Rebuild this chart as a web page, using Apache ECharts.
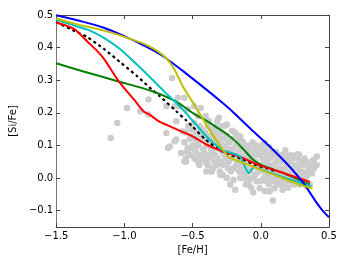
<!DOCTYPE html>
<html><head><meta charset="utf-8">
<script src="https://cdn.jsdelivr.net/npm/echarts@6/dist/echarts.min.js"></script>
<style>html,body{margin:0;padding:0;background:#fff}#c{width:349px;height:262px}</style>
</head><body><div id="c"></div>
<script>
const xTicks = [-1.5, -1.0, -0.5, 0.0, 0.5];
const yTicks = [-0.1, 0.0, 0.1, 0.2, 0.3, 0.4, 0.5];
const xName = '[Fe/H]';
const yName = '[Si/Fe]';

const starPoints = [
[-1.1,0.123],[-1.052,0.169],[-0.98,0.215],[-0.884,0.205],[-0.824,0.241],[-0.824,0.195],
[-0.692,0.22],[-0.608,0.246],[-0.56,0.246],[-0.596,0.22],[-0.62,0.174],[-0.651,0.307],
[-0.692,0.138],[-0.68,0.092],[-0.62,0.118],[-0.584,0.077],[-0.548,0.051],
[-0.488,0.22],[-0.44,0.215],[-0.404,0.19],[-0.308,0.185],[-0.32,0.174],[-0.26,0.161],
[-0.152,0.128],[-0.14,0.095],[-0.092,0.092],[0.027,0.108],[0.0,0.095],
[-0.632,0.113],[-0.668,0.097],[-0.536,0.092],[-0.56,0.051],[-0.572,0.143],[-0.632,0.22],
[-0.536,0.21],[-0.32,0.159],[-0.248,0.164],[-0.176,0.133],[-0.452,0.056],
[-0.368,0.02],[-0.296,0.01],[-0.128,0.02],[-0.116,0.0],[-0.092,-0.02],
[-0.46,0.19],[-0.38,0.175],[-0.28,0.16],[-0.21,0.145],[-0.06,0.11],[0.06,0.095],[0.18,0.085],
[-0.55,0.14],[-0.56,0.11],[-0.54,0.08],[-0.55,0.06],
[-0.53,0.16],[-0.52,0.12],[-0.535,0.09],
[-0.51,0.13],[-0.50,0.10],[-0.515,0.07],[-0.505,0.15],
[-0.49,0.17],[-0.48,0.12],[-0.495,0.09],[-0.485,0.06],
[-0.47,0.14],[-0.465,0.11],[-0.475,0.08],[-0.46,0.05],
[-0.45,0.16],[-0.44,0.13],[-0.455,0.10],[-0.445,0.07],[-0.45,0.04],
[-0.43,0.12],[-0.425,0.09],[-0.435,0.15],[-0.42,0.06],
[-0.41,0.14],[-0.40,0.11],[-0.415,0.08],[-0.405,0.05],[-0.40,0.02],
[-0.39,0.16],[-0.385,0.12],[-0.395,0.10],[-0.38,0.07],[-0.39,0.04],
[-0.37,0.13],[-0.365,0.09],[-0.375,0.06],[-0.36,0.02],[-0.37,0.11],
[-0.35,0.15],[-0.345,0.12],[-0.355,0.08],[-0.34,0.05],[-0.35,0.03],
[-0.33,0.14],[-0.325,0.10],[-0.335,0.07],[-0.32,0.04],[-0.33,0.12],
[-0.31,0.13],[-0.305,0.09],[-0.315,0.06],[-0.30,0.02],[-0.31,0.11],
[-0.29,0.12],[-0.285,0.08],[-0.295,0.05],[-0.28,0.01],[-0.29,0.14],
[-0.27,0.10],[-0.265,0.07],[-0.275,0.04],[-0.26,0.12],
[-0.25,0.13],[-0.245,0.09],[-0.255,0.06],[-0.24,0.03],[-0.25,0.00],
[-0.23,0.11],[-0.225,0.08],[-0.235,0.05],[-0.22,0.02],[-0.224,-0.02],
[-0.21,0.12],[-0.205,0.09],[-0.215,0.06],[-0.20,0.03],[-0.20,-0.005],
[-0.19,0.14],[-0.185,0.10],[-0.195,0.07],[-0.18,0.04],[-0.188,-0.036],
[-0.17,0.11],[-0.165,0.08],[-0.175,0.05],[-0.16,0.02],[-0.17,0.13],
[-0.15,0.12],[-0.145,0.09],[-0.155,0.06],[-0.14,0.03],[-0.15,0.00],
[-0.13,0.10],[-0.125,0.07],[-0.135,0.04],[-0.12,0.01],[-0.13,0.11],
[-0.11,0.09],[-0.105,0.06],[-0.115,0.03],[-0.10,0.00],[-0.11,-0.02],
[-0.09,0.10],[-0.085,0.07],[-0.095,0.05],[-0.08,0.02],[-0.09,-0.01],
[-0.07,0.08],[-0.065,0.06],[-0.075,0.03],[-0.06,0.00],[-0.07,-0.03],
[-0.05,0.09],[-0.045,0.07],[-0.055,0.04],[-0.04,0.01],[-0.056,-0.044],
[-0.03,0.10],[-0.025,0.08],[-0.035,0.05],[-0.02,0.02],[-0.03,-0.01],
[-0.01,0.07],[-0.005,0.04],[-0.015,0.02],[0.0,-0.01],[-0.008,-0.031],
[0.01,0.09],[0.015,0.06],[0.005,0.03],[0.02,0.00],[0.016,0.102],
[0.03,0.08],[0.035,0.05],[0.025,0.02],[0.04,-0.01],[0.03,-0.04],
[0.05,0.07],[0.055,0.04],[0.045,0.01],[0.06,-0.02],[0.04,0.072],
[0.07,0.06],[0.075,0.03],[0.065,0.00],[0.064,-0.041],[0.08,0.08],
[0.09,0.07],[0.095,0.04],[0.085,0.02],[0.10,-0.01],[0.1,-0.031],[0.088,-0.069],
[0.11,0.08],[0.115,0.05],[0.105,0.02],[0.12,-0.02],[0.11,0.00],[0.124,0.066],
[0.13,0.06],[0.135,0.03],[0.125,0.01],[0.14,-0.02],[0.13,0.07],
[0.15,0.05],[0.155,0.02],[0.145,-0.01],[0.16,-0.036],[0.15,0.07],
[0.17,0.06],[0.175,0.03],[0.165,0.00],[0.172,-0.02],
[0.19,0.07],[0.195,0.04],[0.185,0.01],[0.2,-0.03],[0.196,0.056],
[0.21,0.05],[0.215,0.02],[0.205,-0.01],[0.22,0.07],
[0.23,0.06],[0.235,0.03],[0.225,0.00],[0.24,-0.02],
[0.25,0.04],[0.255,0.01],[0.245,-0.02],[0.26,0.07],
[0.27,0.06],[0.268,0.072],[0.275,0.03],[0.265,0.00],[0.268,-0.01],
[0.29,0.05],[0.295,0.02],[0.285,-0.02],[0.28,0.072],
[0.31,0.04],[0.316,0.051],[0.305,0.01],[0.32,0.06],[0.31,-0.01],
[0.33,0.05],[0.335,0.02],[0.34,-0.026],[0.33,0.00],
[0.35,0.04],[0.355,0.03],[0.345,0.01],[0.36,-0.02],
[0.364,0.036],[0.376,0.015],[0.37,0.05],[0.375,0.02],
[0.388,0.056],[0.39,0.03],[0.412,0.066],[0.41,0.04]
];

const blackDashed = [[-1.5,0.478],[-1.34,0.446],[-1.268,0.431],[-1.147,0.395],[-1.027,0.354],[-0.908,0.313],[-0.8,0.272],[-0.74,0.251],[-0.62,0.205],[-0.55,0.178],[-0.5,0.158],[-0.404,0.118],[-0.284,0.082],[-0.15,0.06],[-0.044,0.041],[0.076,0.026],[0.1,0.022]];
const greenLine = [[-1.5,0.352],[-1.3,0.327],[-1.05,0.297],[-0.8,0.267],[-0.65,0.241],[-0.57,0.221],[-0.5,0.2],[-0.4,0.176],[-0.33,0.157],[-0.25,0.135],[-0.18,0.111],[-0.12,0.085],[-0.06,0.058],[0.0,0.041],[0.1,0.025],[0.2,0.009],[0.36,-0.02]];
const redLine = [[-1.5,0.477],[-1.43,0.468],[-1.36,0.455],[-1.27,0.418],[-1.2,0.39],[-1.147,0.364],[-1.05,0.302],[-0.98,0.265],[-0.93,0.241],[-0.86,0.205],[-0.81,0.193],[-0.74,0.172],[-0.69,0.163],[-0.6,0.146],[-0.5,0.128],[-0.4,0.103],[-0.28,0.082],[-0.16,0.066],[0.0,0.038],[0.17,0.015],[0.36,-0.012]];
const cyanLine = [[-1.5,0.485],[-1.4,0.472],[-1.27,0.455],[-1.15,0.43],[-1.03,0.395],[-0.91,0.349],[-0.79,0.3],[-0.7,0.262],[-0.62,0.231],[-0.55,0.2],[-0.45,0.152],[-0.38,0.12],[-0.33,0.102],[-0.28,0.085],[-0.2,0.075],[-0.15,0.066],[-0.09,0.015],[-0.05,0.033],[0.0,0.027],[0.1,0.012],[0.2,-0.002],[0.3,-0.015],[0.37,-0.025]];
const yellowLine = [[-1.5,0.489],[-1.35,0.472],[-1.15,0.452],[-1.0,0.433],[-0.86,0.412],[-0.76,0.39],[-0.69,0.366],[-0.64,0.338],[-0.57,0.28],[-0.51,0.24],[-0.42,0.178],[-0.38,0.15],[-0.3,0.1],[-0.24,0.066],[-0.2,0.058],[-0.1,0.042],[0.0,0.026],[0.12,0.006],[0.27,-0.018],[0.38,-0.031]];
const blueLine = [[-1.5,0.499],[-1.3,0.479],[-1.15,0.461],[-1.0,0.435],[-0.86,0.407],[-0.79,0.392],[-0.69,0.366],[-0.57,0.328],[-0.44,0.285],[-0.31,0.241],[-0.21,0.205],[-0.07,0.149],[0.09,0.087],[0.2,0.04],[0.31,-0.014],[0.41,-0.076],[0.45,-0.098],[0.5,-0.12]];

const fmt = v => { const s = (Math.abs(v) < 1e-9 ? 0 : v).toFixed(1); return s.replace('-', '\u2212'); };
const font = 'DejaVu Sans';
const spine = {show: true, onZero: false, lineStyle: {color: '#444', width: 1}};
const tickIn = {show: true, inside: true, length: 4, lineStyle: {color: '#444', width: 1}};

function line(data, color, extra) {
  return Object.assign({type: 'line', data: data, showSymbol: false, symbol: 'none', smooth: 0.25,
    lineStyle: {color: color, width: 2}, itemStyle: {color: color}, silent: true, z: 3}, extra || {});
}

const chart = echarts.init(document.getElementById('c'), null, {renderer: 'canvas'});
chart.setOption({
  animation: false,
  grid: {left: 51, right: 20, top: 15, bottom: 35, containLabel: false},
  xAxis: [
    {type: 'value', min: -1.5, max: 0.5, interval: 0.5, position: 'bottom',
     axisLine: spine, axisTick: Object.assign({}, tickIn, {customValues: xTicks}), splitLine: {show: false},
     axisLabel: {customValues: xTicks, formatter: fmt, color: '#000', fontFamily: font, fontSize: 10, margin: 4},
     name: xName, nameLocation: 'middle', nameGap: 14, nameTextStyle: {color: '#000', fontFamily: font, fontSize: 10}},
    {type: 'value', min: -1.5, max: 0.5, interval: 0.5, position: 'top',
     axisLine: spine, axisTick: Object.assign({}, tickIn, {customValues: xTicks}), axisLabel: {show: false}, splitLine: {show: false}}
  ],
  yAxis: [
    {type: 'value', min: -0.15, max: 0.5, position: 'left',
     axisLine: {show: true, onZero: false, lineStyle: {color: '#777', width: 1}}, axisTick: Object.assign({}, tickIn, {customValues: yTicks}), splitLine: {show: false},
     axisLabel: {customValues: yTicks, formatter: fmt, color: '#000', fontFamily: font, fontSize: 10, margin: 3},
     name: yName, nameLocation: 'middle', nameGap: 27, nameTextStyle: {color: '#000', fontFamily: font, fontSize: 10}},
    {type: 'value', min: -0.15, max: 0.5, position: 'right',
     axisLine: spine, axisTick: Object.assign({}, tickIn, {customValues: yTicks}), axisLabel: {show: false}, splitLine: {show: false}}
  ],
  series: [
    {type: 'scatter', data: starPoints, symbolSize: 6.5, itemStyle: {color: '#cccccc', opacity: 1}, silent: true, z: 2},
    line(blackDashed, '#000000', {lineStyle: {color: '#000', width: 2.2, type: [3, 3]}}),
    line(greenLine, '#008000'),
    line(redLine, '#ff0000'),
    line(cyanLine, '#00bfbf', {smooth: 0.15}),
    line(blueLine, '#0000ff'),
    line(yellowLine, '#bfbf00', {smooth: 0.15})
  ]
});
</script></body></html>
